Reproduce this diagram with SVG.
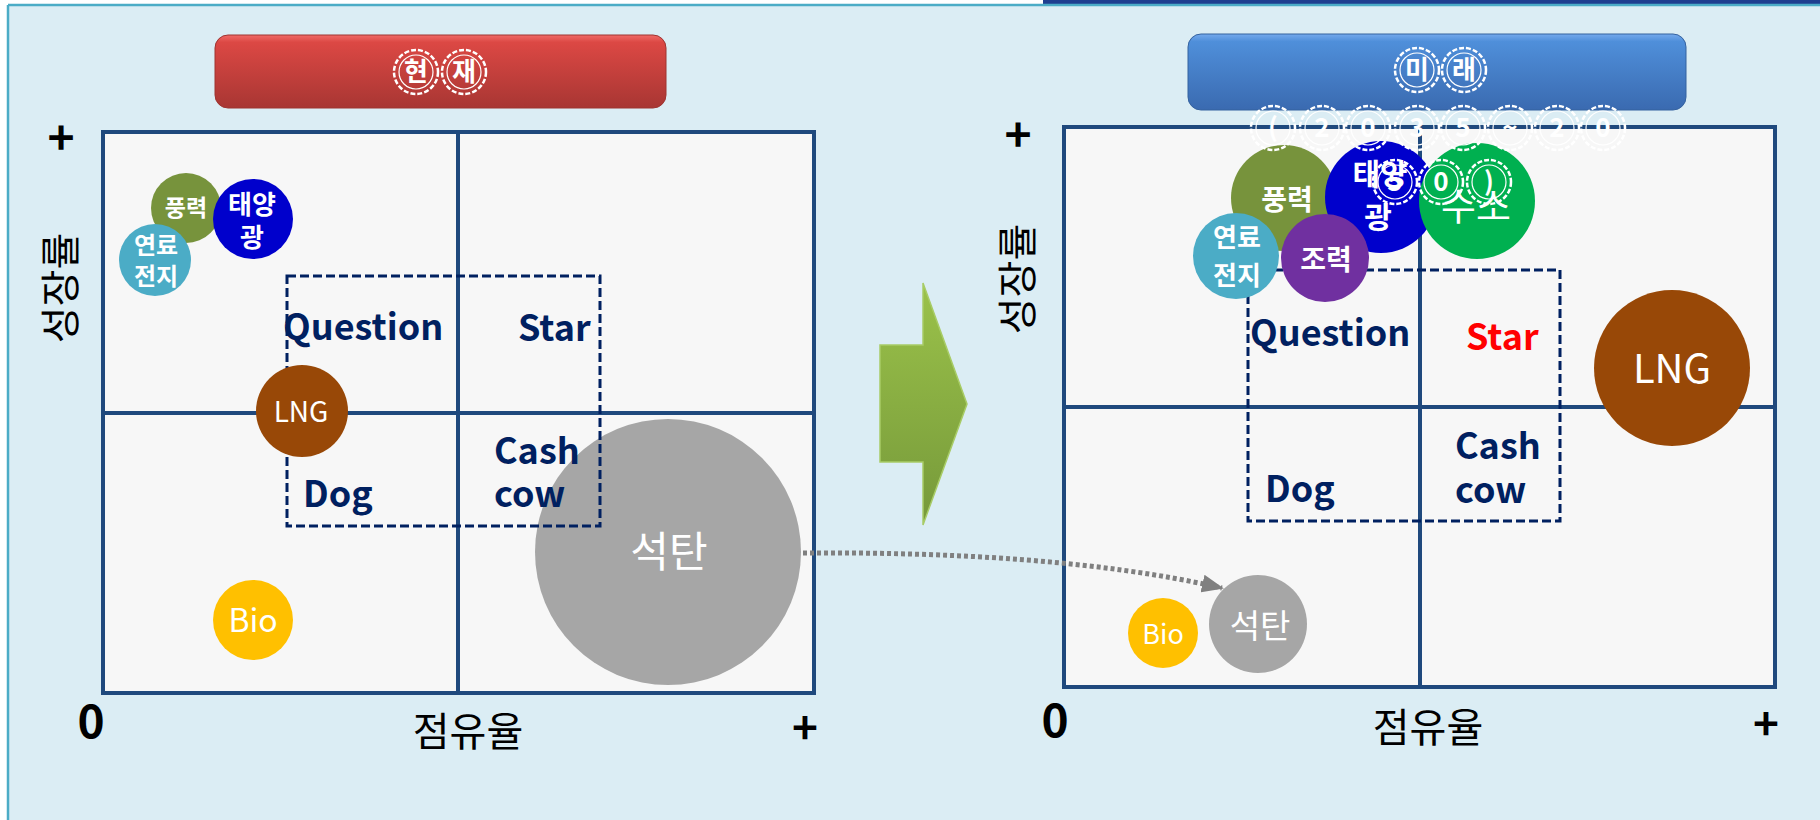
<svg xmlns="http://www.w3.org/2000/svg" width="1820" height="820" viewBox="0 0 1820 820">
<defs>
<linearGradient id="gRed" x1="0" y1="0" x2="0" y2="1">
<stop offset="0" stop-color="#F06A66"/>
<stop offset="0.1" stop-color="#DC4844"/>
<stop offset="1" stop-color="#A83633"/>
</linearGradient>
<linearGradient id="gBlue" x1="0" y1="0" x2="0" y2="1">
<stop offset="0" stop-color="#74A9EC"/>
<stop offset="0.1" stop-color="#4F8FDA"/>
<stop offset="1" stop-color="#3A6AB0"/>
</linearGradient>
<linearGradient id="gGreen" x1="0" y1="0" x2="0" y2="1">
<stop offset="0" stop-color="#9BC24A"/>
<stop offset="1" stop-color="#76993A"/>
</linearGradient>
<marker id="arrowGray" markerUnits="userSpaceOnUse" markerWidth="22" markerHeight="18" refX="20" refY="9" orient="auto">
<path d="M0,0 L22,9 L0,18 z" fill="#808080"/>
</marker>
<symbol id="seal" overflow="visible">
<circle cx="0" cy="0" r="22" fill="none" stroke="#FFFFFF" stroke-width="2.5" stroke-dasharray="5 2"/>
<circle cx="0" cy="0" r="17" fill="none" stroke="#FFFFFF" stroke-width="1.2"/>
</symbol>
</defs>
<style>
.grid{fill:#F7F7F7;stroke:#1F497D;stroke-width:4}
.gl{stroke:#1F497D;stroke-width:4}
.dash{fill:none;stroke:#002060;stroke-width:3;stroke-dasharray:9 4}
.q{font-family:"Noto Sans CJK KR","Noto Sans",sans-serif;font-weight:bold;font-size:36px;fill:#002060}
.bw{font-family:"Noto Sans CJK KR",sans-serif;font-weight:bold;fill:#FFFFFF;text-anchor:middle}
.nw{font-family:"Noto Sans CJK KR",sans-serif;fill:#FFFFFF;text-anchor:middle}
.ax{font-family:"Noto Sans CJK KR",sans-serif;fill:#000000;text-anchor:middle}
.axb{font-family:"Noto Sans CJK KR",sans-serif;font-weight:bold;fill:#000000;text-anchor:middle}
.ttl{font-family:"Noto Sans CJK KR",sans-serif;font-weight:bold;fill:#FFFFFF;text-anchor:middle;font-size:26px}
</style>

<!-- background -->
<rect x="0" y="0" width="1820" height="820" fill="#FFFFFF"/>
<rect x="1043" y="0" width="777" height="5" fill="#1F3F8F"/>
<rect x="8" y="5" width="1812" height="815" fill="#DBEDF4"/>
<line x1="8" y1="5" x2="1820" y2="5" stroke="#4BACC6" stroke-width="2.5"/>
<line x1="8" y1="5" x2="8" y2="820" stroke="#4BACC6" stroke-width="2.5"/>

<!-- LEFT PANEL -->
<g id="title-now">
<rect x="215" y="35" width="451" height="73" rx="13" fill="url(#gRed)" stroke="#9E3431" stroke-width="1"/>
<use href="#seal" x="416" y="72"/>
<use href="#seal" x="464" y="72"/>
<text class="ttl" x="416 464" y="81">현재</text>
</g>

<g id="matrix-now">
<rect class="grid" x="103" y="132" width="711" height="561"/>
<line class="gl" x1="458" y1="132" x2="458" y2="693"/>
<line class="gl" x1="103" y1="413" x2="814" y2="413"/>
</g>

<g id="now-coal"><circle cx="668" cy="552" r="133" fill="#A6A6A6"/><text class="nw" x="669" y="567" font-size="42">석탄</text></g>

<g id="quadrants-now">
<rect class="dash" x="287" y="276" width="313" height="250"/>
<text class="q" x="283" y="340">Question</text>
<text class="q" x="518" y="341">Star</text>
<text class="q" x="494" y="464">Cash</text>
<text class="q" x="494" y="507">cow</text>
<text class="q" x="303" y="507">Dog</text>
</g>

<g id="axes-now">
<text class="axb" x="61" y="155" font-size="46">+</text>
<text class="ax" font-size="40" transform="translate(75,288) rotate(-90)">성장률</text>
<text class="axb" x="91" y="738" font-size="46">0</text>
<text class="ax" x="468" y="746" font-size="40">점유율</text>
<text class="axb" x="805" y="744" font-size="44">+</text>
</g>

<g id="now-wind"><circle cx="186" cy="208" r="35" fill="#77933C"/><text class="bw" x="186" y="216" font-size="23">풍력</text></g>
<g id="now-solar"><circle cx="253" cy="219" r="40" fill="#0000CC"/><text class="bw" x="252" y="214" font-size="26">태양</text><text class="bw" x="252" y="247" font-size="26">광</text></g>
<g id="now-fuelcell"><circle cx="155" cy="260" r="36" fill="#4BACC6"/><text class="bw" x="156" y="254" font-size="24">연료</text><text class="bw" x="156" y="285" font-size="24">전지</text></g>
<g id="now-lng"><circle cx="302" cy="411" r="46" fill="#984807"/><text class="nw" x="301" y="422" font-size="28">LNG</text></g>
<g id="now-bio"><circle cx="253" cy="620" r="40" fill="#FFC000"/><text class="nw" x="253" y="632" font-size="32">Bio</text></g>

<!-- ARROW -->
<g id="arrow-transition">
<polygon points="880,345 923,345 923,283 967,404 923,525 923,462 880,462" fill="url(#gGreen)" stroke="#A8CC66" stroke-width="1.5"/>
</g>

<!-- RIGHT PANEL -->
<g id="title-future">
<rect x="1188" y="34" width="498" height="76" rx="13" fill="url(#gBlue)" stroke="#35629F" stroke-width="1"/>
<use href="#seal" x="1417" y="70"/>
<use href="#seal" x="1464" y="70"/>
<text class="ttl" x="1417 1464" y="79">미래</text>
</g>

<g id="matrix-future">
<rect class="grid" x="1064" y="127" width="711" height="560"/>
<line class="gl" x1="1420" y1="127" x2="1420" y2="687"/>
<line class="gl" x1="1064" y1="407" x2="1775" y2="407"/>
<rect class="dash" x="1248" y="270" width="312" height="251"/>
<text class="q" x="1250" y="346">Question</text>
<text class="q" x="1466" y="350" style="fill:#FF0000">Star</text>
<text class="q" x="1455" y="459">Cash</text>
<text class="q" x="1455" y="503">cow</text>
<text class="q" x="1265" y="502">Dog</text>
</g>

<g id="axes-future">
<text class="axb" x="1018" y="152" font-size="46">+</text>
<text class="ax" font-size="40" transform="translate(1032,279) rotate(-90)">성장률</text>
<text class="axb" x="1055" y="737" font-size="46">0</text>
<text class="ax" x="1428" y="742" font-size="40">점유율</text>
<text class="axb" x="1766" y="740" font-size="44">+</text>
</g>

<g id="fut-wind"><circle cx="1284" cy="198" r="53" fill="#77933C"/><text class="bw" x="1287" y="210" font-size="28">풍력</text></g>
<g id="fut-solar"><circle cx="1381" cy="197" r="56" fill="#0000CC"/><text class="bw" x="1380" y="185" font-size="30">태양</text><text class="bw" x="1378" y="228" font-size="30">광</text></g>
<g id="fut-hydrogen"><circle cx="1477" cy="201" r="58" fill="#00B050"/><text class="nw" x="1476" y="220" font-size="38">수소</text></g>
<g id="fut-fuelcell"><circle cx="1236" cy="256" r="43" fill="#4BACC6"/><text class="bw" x="1237" y="247" font-size="26">연료</text><text class="bw" x="1237" y="285" font-size="26">전지</text></g>
<g id="fut-tidal"><circle cx="1325" cy="258" r="44" fill="#7030A0"/><text class="bw" x="1326" y="270" font-size="28">조력</text></g>
<g id="fut-lng"><circle cx="1672" cy="368" r="78" fill="#984807"/><text class="nw" x="1672" y="383" font-size="40">LNG</text></g>
<g id="fut-bio"><circle cx="1163" cy="633" r="35" fill="#FFC000"/><text class="nw" x="1163" y="644" font-size="27">Bio</text></g>
<g id="fut-coal"><circle cx="1258" cy="624" r="49" fill="#A6A6A6"/><text class="nw" x="1260" y="638" font-size="33">석탄</text></g>

<g id="title-period">
<use href="#seal" x="1273" y="128"/><use href="#seal" x="1322" y="128"/><use href="#seal" x="1368" y="128"/><use href="#seal" x="1417" y="128"/>
<use href="#seal" x="1463" y="128"/><use href="#seal" x="1510" y="128"/><use href="#seal" x="1557" y="128"/><use href="#seal" x="1603" y="128"/>
<text class="ttl" x="1273 1322 1368 1417 1463 1510 1557 1603" y="137">(2035~20</text>
<use href="#seal" x="1395" y="182"/><use href="#seal" x="1441" y="182"/><use href="#seal" x="1489" y="182"/>
<text class="ttl" x="1395 1441 1489" y="191">50)</text>
</g>

<!-- CONNECTORS -->
<g id="connectors">
<path d="M803,553 C950,552 1100,560 1222,588" fill="none" stroke="#808080" stroke-width="5" stroke-dasharray="4 3" marker-end="url(#arrowGray)"/>
</g>
</svg>
